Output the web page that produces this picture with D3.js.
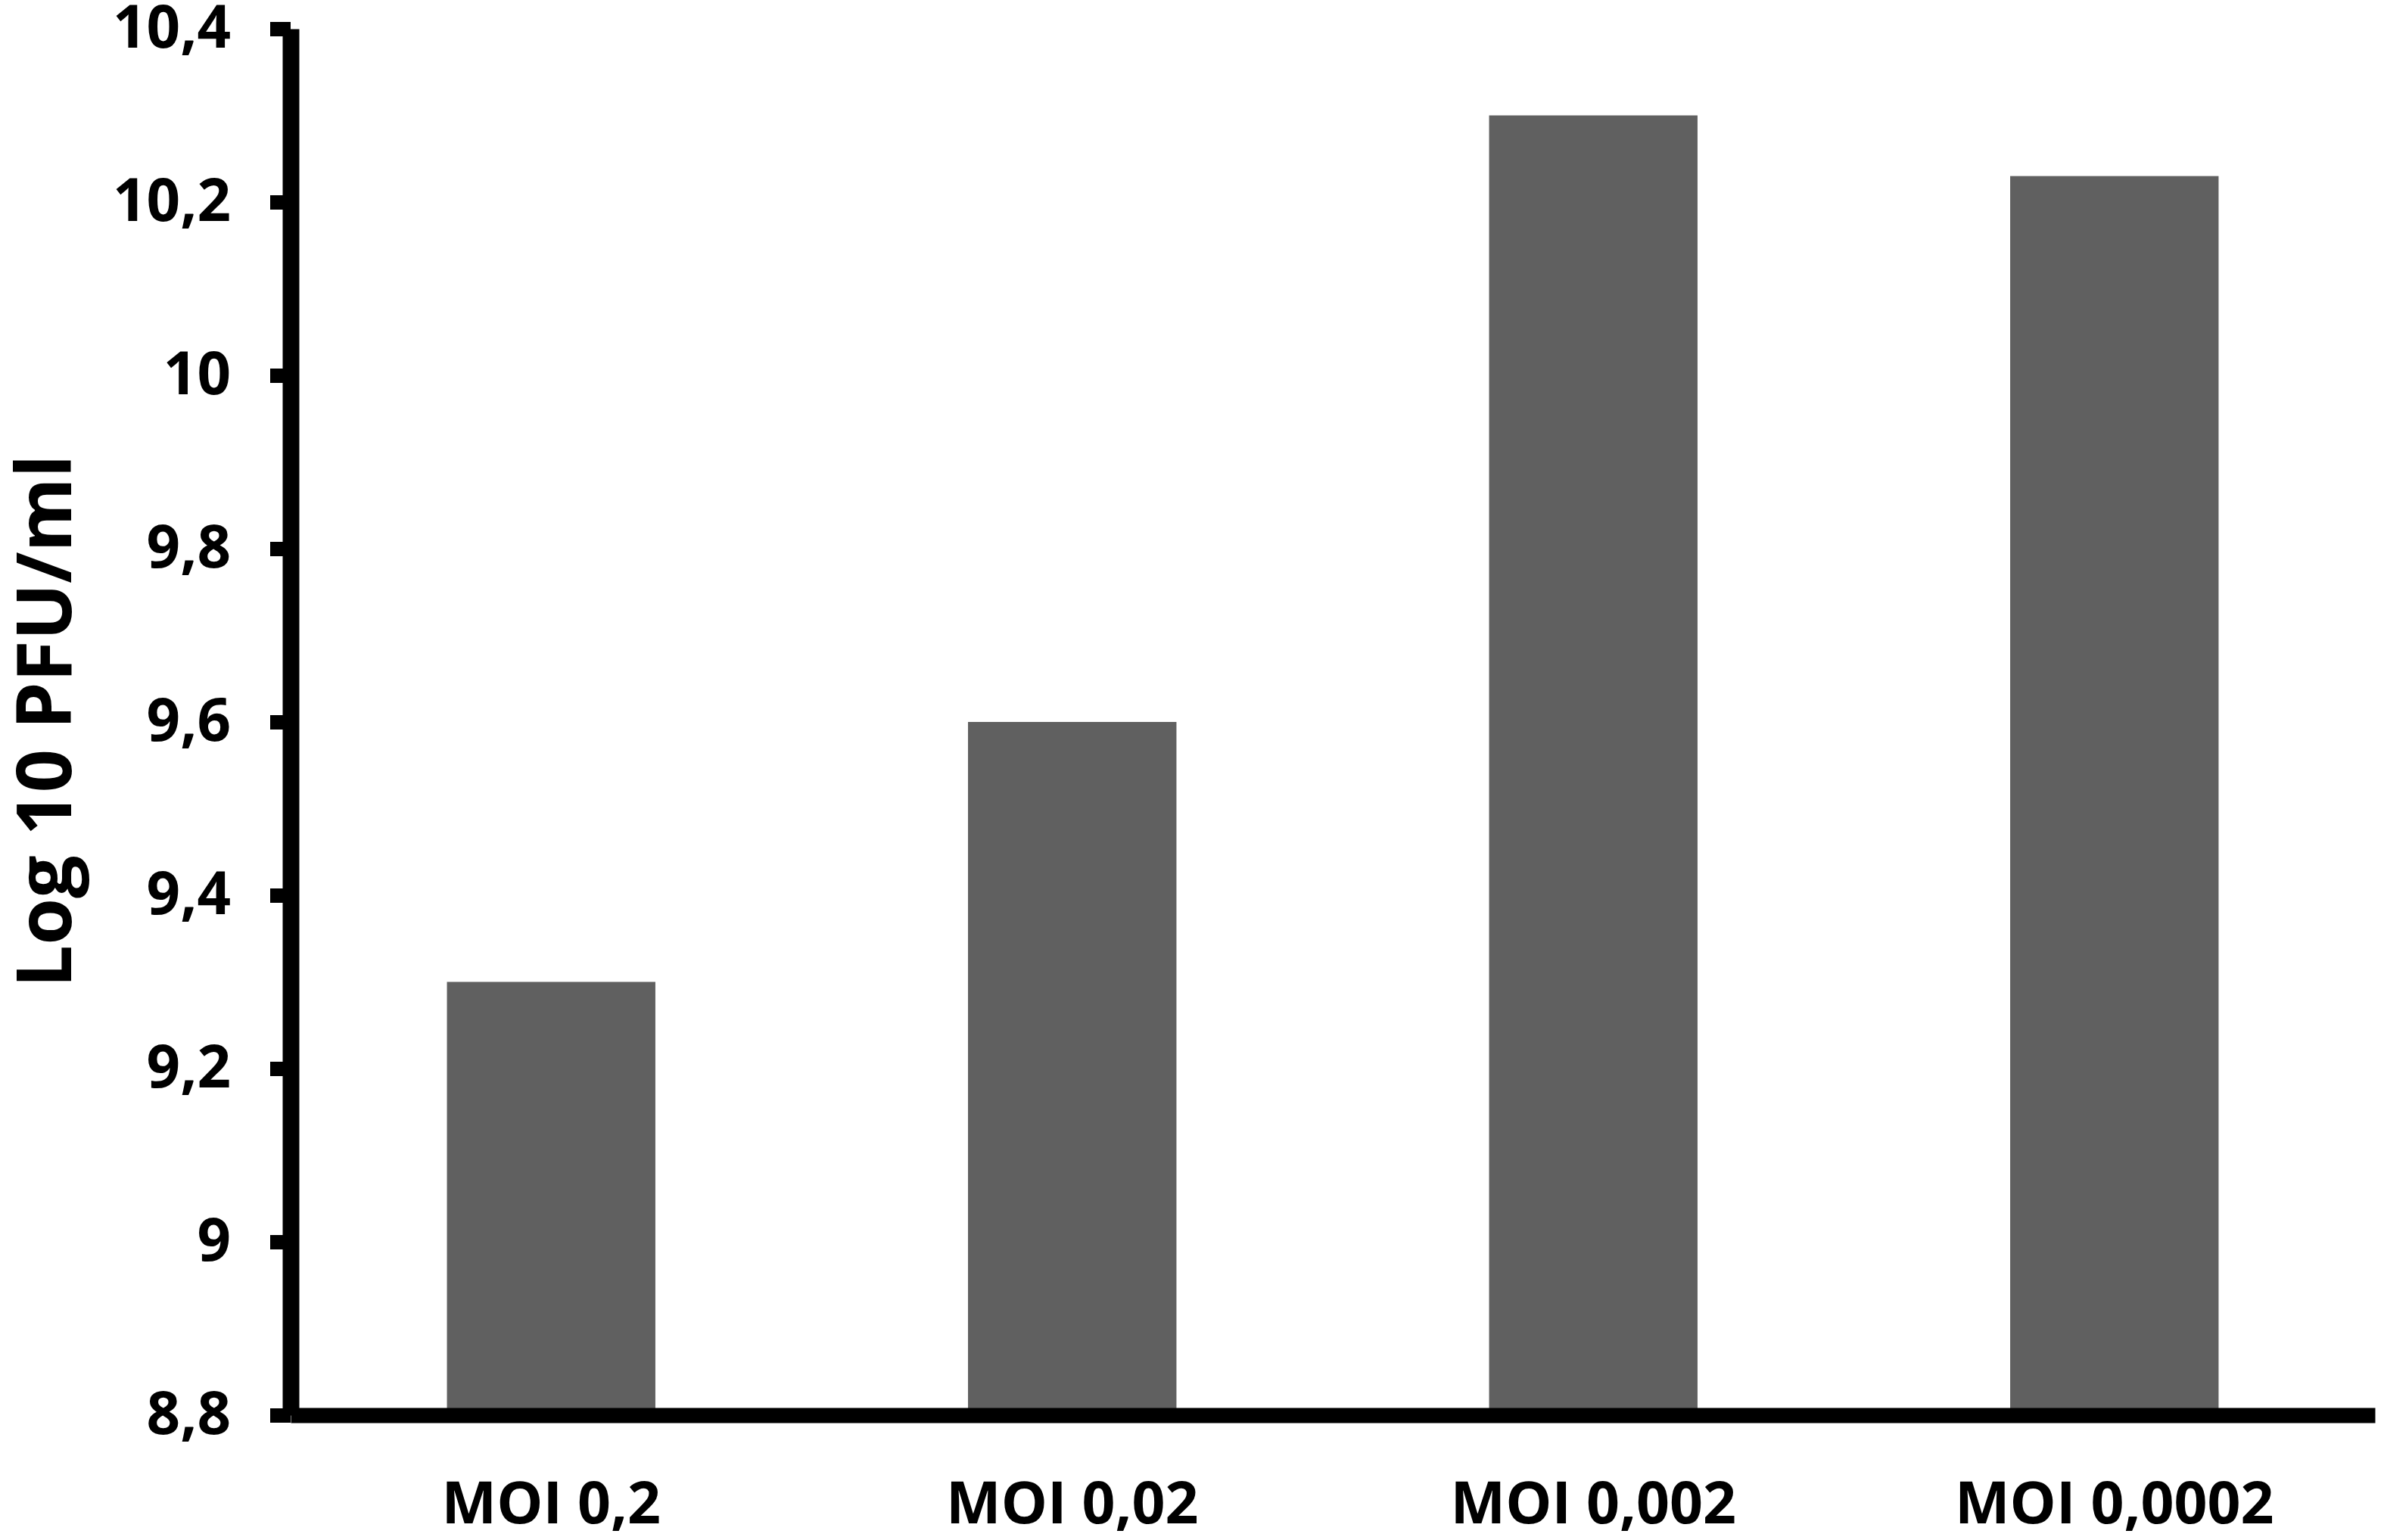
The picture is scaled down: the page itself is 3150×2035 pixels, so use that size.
<!DOCTYPE html>
<html>
<head>
<meta charset="utf-8">
<script src="https://cdn.jsdelivr.net/npm/d3@7"></script>
<style>
  body { margin: 0; background: #fff; }
  text { font-family: "Open Sans", "Noto Sans", sans-serif; font-weight: 700; fill: #000; }
</style>
</head>
<body>
<div id="chart"></div>
<script>
// data

var categories = ["MOI 0,2", "MOI 0,02", "MOI 0,002", "MOI 0,0002"];
var values = [9.3, 9.6, 10.3, 10.23];
var yTicks = [8.8, 9, 9.2, 9.4, 9.6, 9.8, 10, 10.2, 10.4];
var yLabel = "Log 10 PFU/ml";

// set up chart

var width = 3150,
  height = 2035;

var x0 = 384, x1 = 3138,
  yBottom = 1870, yTop = 38;

var svg = d3.select("#chart").append("svg")
    .attr("width", width)
    .attr("height", height);

var x = d3.scaleBand()
    .domain(categories)
    .range([x0, x1])
    .paddingInner(0.6)
    .paddingOuter(0.3);

var y = d3.scaleLinear()
    .domain([8.8, 10.4])
    .range([yBottom, yTop]);

// bars

svg.append("g")
  .selectAll("rect")
  .data(values)
  .enter().append("rect")
  .attr("x", function(d, i) { return x(categories[i]); })
  .attr("y", function(d) { return y(d); })
  .attr("width", x.bandwidth())
  .attr("height", function(d) { return y(8.8) - y(d); })
  .style("fill", "#606060");

// x axis

var xAxis = svg.append("g")
    .attr("transform", "translate(0," + yBottom + ")")
    .call(d3.axisBottom(x).tickSize(0).tickPadding(88));

xAxis.select(".domain")
    .attr("stroke", "#000")
    .attr("stroke-width", 20);

xAxis.selectAll("text")
    .style("font-size", "77px");

// y axis

var yAxis = svg.append("g")
    .attr("transform", "translate(" + x0 + ",0)")
    .call(d3.axisLeft(y)
      .tickValues(yTicks)
      .tickSize(27)
      .tickSizeOuter(0)
      .tickPadding(52)
      .tickFormat(function(d) { return String(+d.toFixed(1)).replace(".", ","); }));

yAxis.select(".domain")
    .attr("stroke", "#000")
    .attr("stroke-width", 22);

yAxis.selectAll(".tick line")
    .attr("stroke", "#000")
    .attr("stroke-width", 19);

yAxis.selectAll("text")
    .style("font-size", "78px");

// axis title

svg.append("text")
    .attr("transform", "translate(94,953) rotate(-90)")
    .attr("text-anchor", "middle")
    .style("font-size", "100px")
    .text(yLabel);
</script>
</body>
</html>
